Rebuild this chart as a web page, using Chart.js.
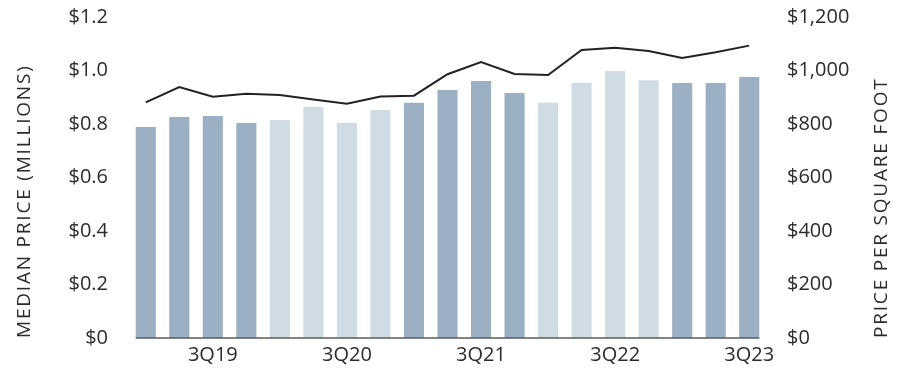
<!DOCTYPE html>
<html lang="en">
<head>
    <meta charset="UTF-8">
    <title>Median Price and Price per Square Foot</title>
    <script src="https://cdn.jsdelivr.net/npm/chart.js"></script>
    <style>
        html, body {
            margin: 0;
            padding: 0;
            background: #ffffff;
        }
        #chart-container {
            width: 907px;
            height: 369px;
        }
    </style>
</head>
<body>

    <div id="chart-container">
        <canvas id="priceChart"></canvas>
    </div>

    <script>
        // Quarters 1Q19 .. 3Q23, only every 3Q is labelled
        const quarters = [
            "1Q19", "2Q19", "3Q19", "4Q19",
            "1Q20", "2Q20", "3Q20", "4Q20",
            "1Q21", "2Q21", "3Q21", "4Q21",
            "1Q22", "2Q22", "3Q22", "4Q22",
            "1Q23", "2Q23", "3Q23"
        ];
        const shownLabels = ["3Q19", "3Q20", "3Q21", "3Q22", "3Q23"];

        // Median price in millions (bars)
        const medianPrice = [
            0.789, 0.826, 0.830, 0.804,
            0.815, 0.864, 0.804, 0.852,
            0.879, 0.927, 0.961, 0.916,
            0.879, 0.953, 0.998, 0.964,
            0.953, 0.953, 0.976
        ];

        // Price per square foot in dollars (line)
        const pricePerSqFt = [
            881, 938, 902, 913,
            908, 892, 876, 903,
            906, 986, 1032, 987,
            983, 1077, 1085, 1073,
            1047, 1068, 1093
        ];

        const leftTicks = [0, 0.2, 0.4, 0.6, 0.8, 1.0, 1.2];
        const rightTicks = [0, 200, 400, 600, 800, 1000, 1200];

        const darkBar = "#9bb1c3";
        const lightBar = "#cfdce4";
        const textColor = "#2b2b2b";
        const fontFamily = "'Open Sans', Lato, sans-serif";

        // odd years dark, even years light
        const barColors = quarters.map(q => {
            const yr = parseInt(q.slice(2), 10);
            return (yr % 2 === 1) ? darkBar : lightBar;
        });

        function drawTitle(ctx, text, x, y) {
            ctx.save();
            ctx.fillStyle = textColor;
            ctx.font = "19px " + fontFamily;
            ctx.textAlign = "left";
            ctx.textBaseline = "middle";
            if ("letterSpacing" in ctx) ctx.letterSpacing = "1.8px";
            ctx.translate(x, y);
            ctx.rotate(-Math.PI / 2);
            ctx.fillText(text, 0, 0);
            ctx.restore();
        }

        // baseline under the bars and the two rotated axis titles
        const extrasPlugin = {
            id: "extras",
            afterDatasetsDraw(chart) {
                const ctx = chart.ctx;
                const area = chart.chartArea;
                const bars = chart.getDatasetMeta(1).data;
                const first = bars[0];
                const last = bars[bars.length - 1];
                ctx.save();
                ctx.strokeStyle = "#5a5a5a";
                ctx.lineWidth = 1.5;
                ctx.beginPath();
                ctx.moveTo(first.x - first.width / 2, area.bottom);
                ctx.lineTo(last.x + last.width / 2, area.bottom);
                ctx.stroke();
                ctx.restore();
            },
            afterDraw(chart) {
                const area = chart.chartArea;
                drawTitle(chart.ctx, "MEDIAN PRICE (MILLIONS)", 25, area.bottom);
                drawTitle(chart.ctx, "PRICE PER SQUARE FOOT", 882, area.bottom);
            }
        };

        // no extra room for half of the top/bottom tick label
        function noLabelPadding(scale) {
            scale.paddingTop = 0;
            scale.paddingBottom = 0;
        }

        const ctx = document.getElementById("priceChart").getContext("2d");
        new Chart(ctx, {
            data: {
                labels: quarters,
                datasets: [
                    {
                        type: "line",
                        label: "Price per Square Foot",
                        data: pricePerSqFt,
                        yAxisID: "yRight",
                        borderColor: "#222222",
                        borderWidth: 2,
                        pointRadius: 0,
                        tension: 0,
                        fill: false
                    },
                    {
                        type: "bar",
                        label: "Median Price",
                        data: medianPrice,
                        yAxisID: "yLeft",
                        backgroundColor: barColors,
                        borderWidth: 0,
                        barPercentage: 0.6,
                        categoryPercentage: 1.0
                    }
                ]
            },
            options: {
                responsive: true,
                maintainAspectRatio: false,
                animation: false,
                layout: {
                    padding: { top: 17, bottom: 0, left: 0, right: 0 }
                },
                plugins: {
                    legend: { display: false },
                    tooltip: { enabled: false }
                },
                scales: {
                    x: {
                        grid: { display: false, drawTicks: false },
                        border: { display: false },
                        afterFit(scale) { scale.height = 31; },
                        ticks: {
                            color: textColor,
                            font: { family: fontFamily, size: 20 },
                            padding: 5,
                            maxRotation: 0,
                            autoSkip: false,
                            callback(value) {
                                const lbl = this.getLabelForValue(value);
                                return shownLabels.includes(lbl) ? lbl : "";
                            }
                        }
                    },
                    yLeft: {
                        position: "left",
                        min: 0,
                        max: 1.2,
                        grid: { display: false, drawTicks: false },
                        border: { display: false },
                        afterFit(scale) {
                            scale.width = 129;
                            noLabelPadding(scale);
                        },
                        afterBuildTicks(scale) {
                            scale.ticks = leftTicks.map(v => ({ value: v }));
                        },
                        ticks: {
                            color: textColor,
                            font: { family: fontFamily, size: 20 },
                            padding: 21,
                            callback(value) {
                                return value === 0 ? "$0" : "$" + value.toFixed(1);
                            }
                        }
                    },
                    yRight: {
                        position: "right",
                        min: 0,
                        max: 1200,
                        grid: { display: false, drawTicks: false },
                        border: { display: false },
                        afterFit(scale) {
                            scale.width = 141;
                            noLabelPadding(scale);
                        },
                        afterBuildTicks(scale) {
                            scale.ticks = rightTicks.map(v => ({ value: v }));
                        },
                        ticks: {
                            color: textColor,
                            font: { family: fontFamily, size: 20 },
                            padding: 21,
                            callback(value) {
                                return "$" + value.toLocaleString("en-US");
                            }
                        }
                    }
                }
            },
            plugins: [extrasPlugin]
        });
    </script>

</body>
</html>
